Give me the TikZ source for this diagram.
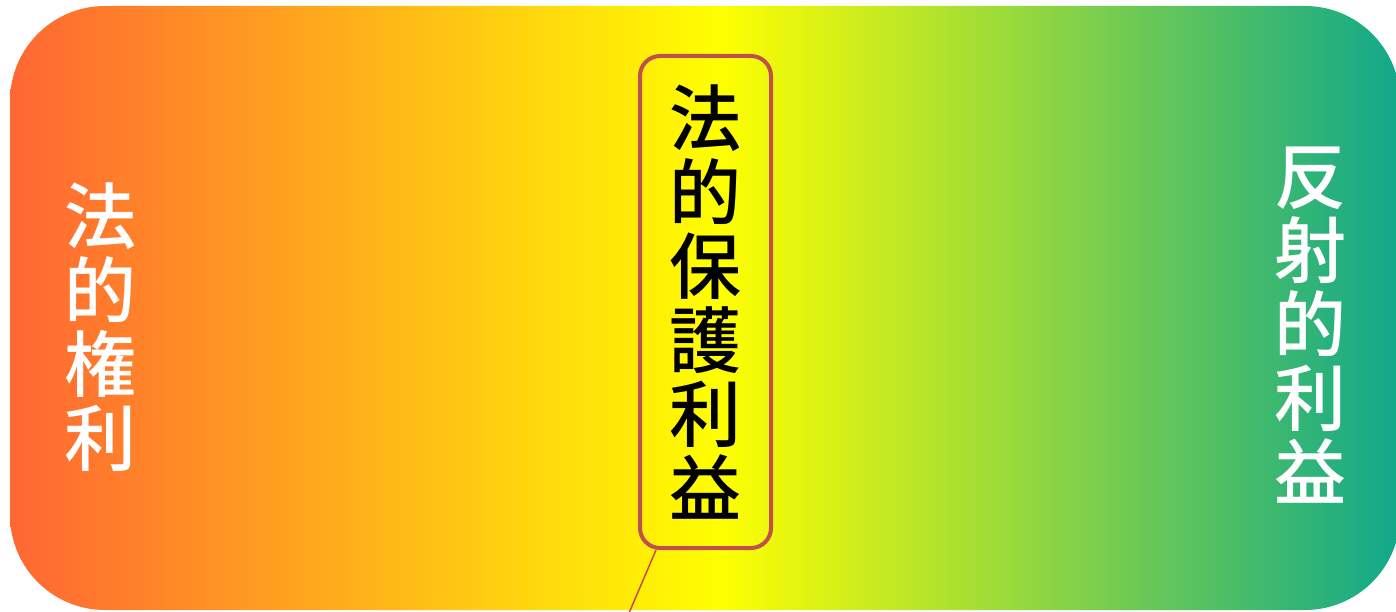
\documentclass[tikz,border=0pt]{standalone}
\usepackage{fontspec}
\newfontfamily\cjk{Noto Sans CJK JP Medium}
\definecolor{gleft}{RGB}{255,102,51}
\definecolor{gmid}{RGB}{255,255,0}
\definecolor{gright}{RGB}{16,168,138}
\definecolor{boxline}{RGB}{192,80,77}
\pgfdeclarehorizontalshading{bandshade}{100bp}{color(0bp)=(gleft); color(25bp)=(gleft); color(50.5bp)=(gmid); color(75bp)=(gright); color(100bp)=(gright)}
\tikzset{
  vlabel/.style={font=\cjk\fontsize{72}{74}\selectfont, align=center, inner sep=0pt},
  whitelabel/.style={vlabel, text=white},
  centerbox/.style={vlabel, text=black, draw=boxline, line width=4pt, rounded corners=20pt,
    minimum width=131pt, minimum height=492pt},
  leader/.style={draw=boxline, line width=1.5pt}
}
\begin{document}
\begin{tikzpicture}[x=1pt,y=-1pt]
\useasboundingbox (0,0) rectangle (1396,612);
\shade[shading=bandshade, rounded corners=95pt] (10,6) rectangle (1400,610);
\node[whitelabel] (left) at (100,327) {法\\的\\権\\利};
\node[whitelabel] (right) at (1310,325) {反\\射\\的\\利\\益};
\node[centerbox] (box) at (705.5,302) {法\\的\\保\\護\\利\\益};
\coordinate (tail) at (626,620);
\draw[leader] ([xshift=18pt]box.south west) -- (tail);
\end{tikzpicture}
\end{document}
